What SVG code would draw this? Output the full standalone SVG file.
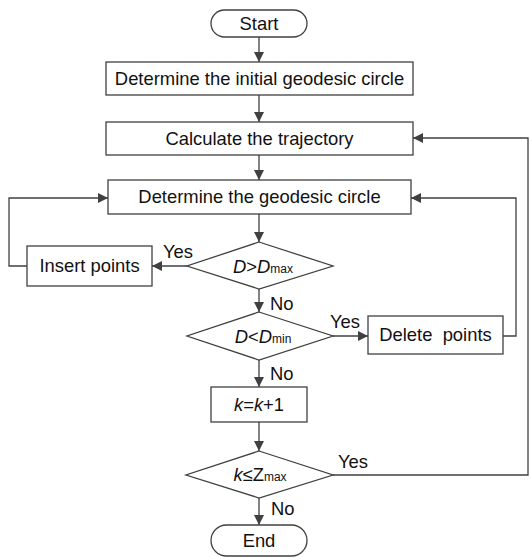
<svg xmlns="http://www.w3.org/2000/svg" width="529" height="557" viewBox="0 0 529 557">
<style>
.n{fill:#fff;stroke:#404040;stroke-width:1.3}
.c{fill:none;stroke:#404040;stroke-width:1.3}
text{font-family:"Liberation Sans",Arial,sans-serif;font-size:18.4px;fill:#111}
.t{text-anchor:middle}
.i{font-style:italic}
.s{font-size:12px}
</style>
<defs>
<marker id="a" viewBox="0 0 10 10" refX="10" refY="5" markerWidth="10" markerHeight="10" markerUnits="userSpaceOnUse" orient="auto">
<path d="M0,0 L10,5 L0,10 Z" fill="#404040"/>
</marker>
</defs>
<g id="connectors">
<line class="c" x1="259" y1="37" x2="259" y2="62" marker-end="url(#a)"/>
<line class="c" x1="259" y1="95" x2="259" y2="122" marker-end="url(#a)"/>
<line class="c" x1="259" y1="155" x2="259" y2="180" marker-end="url(#a)"/>
<line class="c" x1="259" y1="214" x2="259" y2="242" marker-end="url(#a)"/>
<line class="c" x1="259" y1="289" x2="259" y2="312" marker-end="url(#a)"/>
<line class="c" x1="259" y1="360" x2="259" y2="387" marker-end="url(#a)"/>
<line class="c" x1="259" y1="422" x2="259" y2="451" marker-end="url(#a)"/>
<line class="c" x1="259" y1="498" x2="259" y2="525" marker-end="url(#a)"/>
<line class="c" x1="187" y1="266" x2="152" y2="266" marker-end="url(#a)"/>
<polyline class="c" points="27,266 9,266 9,198 108,198" marker-end="url(#a)"/>
<line class="c" x1="333" y1="336" x2="368" y2="336" marker-end="url(#a)"/>
<polyline class="c" points="503,336 516,336 516,198 411,198" marker-end="url(#a)"/>
<polyline class="c" points="333,475 528,475 528,138 413,138" marker-end="url(#a)"/>
<text x="163" y="258">Yes</text>
<text x="270" y="310">No</text>
<text x="330" y="328">Yes</text>
<text x="270" y="380">No</text>
<text x="338" y="468">Yes</text>
<text x="271" y="515">No</text>
</g>
<g id="start">
<rect class="n" x="211" y="10" width="96" height="27" rx="13.5"/>
<text class="t" x="259" y="30">Start</text>
</g>
<g id="init">
<rect class="n" x="106" y="62" width="307" height="33"/>
<text class="t" x="259.5" y="85">Determine the initial geodesic circle</text>
</g>
<g id="traj">
<rect class="n" x="106" y="122" width="307" height="33"/>
<text class="t" x="259.5" y="145">Calculate the trajectory</text>
</g>
<g id="circle">
<rect class="n" x="108" y="180" width="303" height="34"/>
<text class="t" x="259.5" y="203">Determine the geodesic circle</text>
</g>
<g id="dmax">
<polygon class="n" points="259,242 333,266 259,289 187,266"/>
<text class="t" x="263" y="273"><tspan class="i">D</tspan>&gt;<tspan class="i">D</tspan><tspan class="s">max</tspan></text>
</g>
<g id="insert">
<rect class="n" x="27" y="246" width="125" height="40"/>
<text class="t" x="89.5" y="272">Insert points</text>
</g>
<g id="dmin">
<polygon class="n" points="259,312 333,336 259,360 187,336"/>
<text class="t" x="263" y="343"><tspan class="i">D</tspan>&lt;<tspan class="i">D</tspan><tspan class="s">min</tspan></text>
</g>
<g id="delete">
<rect class="n" x="368" y="316" width="135" height="38"/>
<text class="t" x="435.5" y="341" xml:space="preserve">Delete  points</text>
</g>
<g id="inc">
<rect class="n" x="211" y="387" width="96" height="35"/>
<text class="t" x="259" y="411"><tspan class="i">k</tspan>=<tspan class="i">k</tspan>+1</text>
</g>
<g id="zmax">
<polygon class="n" points="259,451 333,475 259,498 186,475"/>
<text class="t" x="260" y="481"><tspan class="i">k</tspan>≤Z<tspan class="s">max</tspan></text>
</g>
<g id="end">
<rect class="n" x="211" y="525" width="96" height="31" rx="15.5"/>
<text class="t" x="259" y="547">End</text>
</g>
</svg>
